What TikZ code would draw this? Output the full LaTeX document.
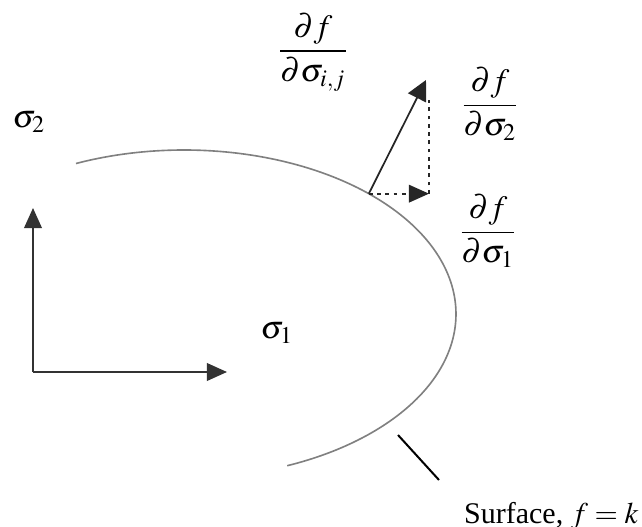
\documentclass[tikz,border=0pt]{standalone}
\usepackage{mathptmx}
\usepackage{fontspec}
\setmainfont{Liberation Serif}
\usetikzlibrary{arrows.meta}
\begin{document}
\begin{tikzpicture}[x=0.4pt,y=-0.4pt,
    axis/.style={line width=0.8pt,black!80,-{Triangle[length=8pt,width=7pt]}},
    surf/.style={line width=0.65pt,black!50},
    grad/.style={line width=0.7pt,black!85,-{Triangle[length=8pt,width=8pt]}},
    comp/.style={line width=0.7pt,black!85,dash pattern=on 1.5pt off 1.8pt},
    lbl/.style={font=\fontsize{13}{15}\selectfont,inner sep=0pt}]
  \useasboundingbox (0,0) rectangle (642,527);

  \coordinate (O) at (33,372);
  \coordinate (Y) at (33,208);
  \coordinate (X) at (227,372);
  \draw[axis] (O) -- (Y);
  \draw[axis] (O) -- (X);

  \draw[surf] plot[domain=-113.4:67.7,samples=90,smooth] ({184+272*cos(\x)},{314+164*sin(\x)});

  \coordinate (P) at ({184+272*cos(-47.2)},{314+164*sin(-47.2)});
  \coordinate (G) at (426,80);
  \coordinate (V) at (429,100);
  \coordinate (H) at (P -| V);
  \draw[grad] (P) -- (G);
  \draw[comp,-{Triangle[length=8pt,width=7pt]}] (P) -- (H);
  \draw[comp] (H) -- (V);

  \coordinate (T1) at (398,435);
  \coordinate (T2) at (439,480);
  \draw[line width=0.8pt] (T1) -- (T2);

  \node[lbl] (s2) at (29,122) {$\sigma_2$};
  \node[lbl] (s1) at (277,333) {$\sigma_1$};
  \node[lbl] (dfij) at (313,52) {$\displaystyle\frac{\partial f}{\partial\sigma_{i,j}}$};
  \node[lbl] (df2) at (490,104) {$\displaystyle\frac{\partial f}{\partial\sigma_2}$};
  \node[lbl] (df1) at (488,231) {$\displaystyle\frac{\partial f}{\partial\sigma_1}$};
  \node[lbl,font=\fontsize{12}{14}\selectfont,anchor=base east] (surflbl) at (639,523) {Surface, $f=k$};
\end{tikzpicture}
\end{document}
